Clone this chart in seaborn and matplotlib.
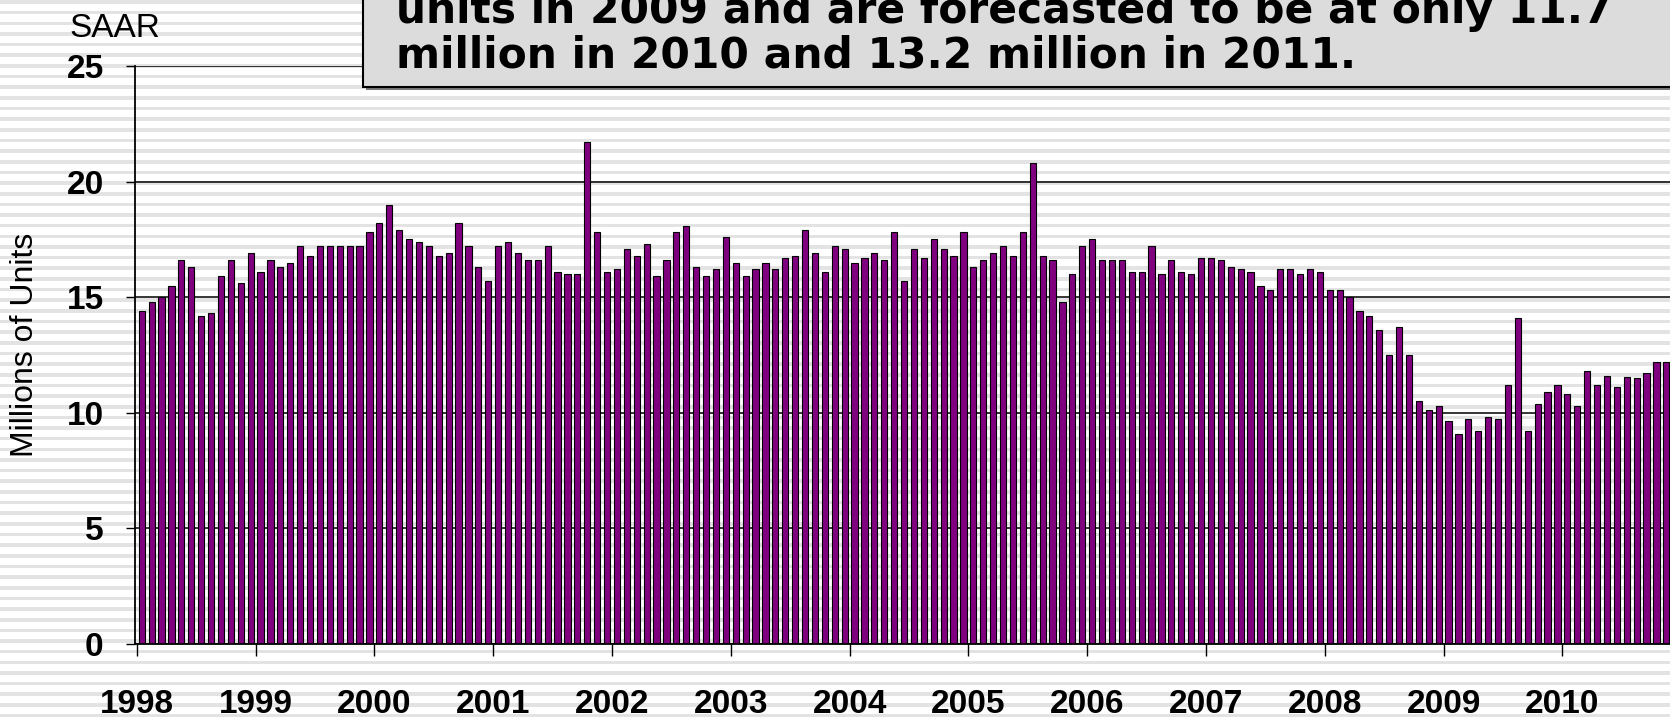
import numpy as np
import pandas as pd
import matplotlib.pyplot as plt
from matplotlib.patches import Rectangle
import seaborn as sns

# monthly light vehicle sales, SAAR, millions of units
sales_1998 = [14.4, 14.8, 15.0, 15.5, 16.6, 16.3, 14.2, 14.3, 15.9, 16.6, 15.6, 16.9]
sales_1999 = [16.1, 16.6, 16.3, 16.5, 17.2, 16.8, 17.2, 17.2, 17.2, 17.2, 17.2, 17.8]
sales_2000 = [18.2, 19.0, 17.9, 17.5, 17.4, 17.2, 16.8, 16.9, 18.2, 17.2, 16.3, 15.7]
sales_2001 = [17.2, 17.4, 16.9, 16.6, 16.6, 17.2, 16.1, 16.0, 16.0, 21.7, 17.8, 16.1]
sales_2002 = [16.2, 17.1, 16.8, 17.3, 15.9, 16.6, 17.8, 18.1, 16.3, 15.9, 16.2, 17.6]
sales_2003 = [16.5, 15.9, 16.2, 16.5, 16.2, 16.7, 16.8, 17.9, 16.9, 16.1, 17.2, 17.1]
sales_2004 = [16.5, 16.7, 16.9, 16.6, 17.8, 15.7, 17.1, 16.7, 17.5, 17.1, 16.8, 17.8]
sales_2005 = [16.3, 16.6, 16.9, 17.2, 16.8, 17.8, 20.8, 16.8, 16.6, 14.8, 16.0, 17.2]
sales_2006 = [17.5, 16.6, 16.6, 16.6, 16.1, 16.1, 17.2, 16.0, 16.6, 16.1, 16.0, 16.7]
sales_2007 = [16.7, 16.6, 16.3, 16.2, 16.1, 15.5, 15.3, 16.2, 16.2, 16.0, 16.2, 16.1]
sales_2008 = [15.3, 15.3, 15.0, 14.4, 14.2, 13.6, 12.5, 13.7, 12.5, 10.5, 10.1, 10.3]
sales_2009 = [9.65, 9.1, 9.75, 9.2, 9.8, 9.75, 11.2, 14.1, 9.2, 10.4, 10.9, 11.2]
sales_2010 = [10.8, 10.3, 11.8, 11.2, 11.6, 11.1, 11.55, 11.5, 11.7, 12.2, 12.2]

years = [1998, 1999, 2000, 2001, 2002, 2003, 2004, 2005, 2006, 2007, 2008, 2009, 2010]
yticks = [0, 5, 10, 15, 20, 25]

series = [sales_1998, sales_1999, sales_2000, sales_2001, sales_2002, sales_2003,
          sales_2004, sales_2005, sales_2006, sales_2007, sales_2008, sales_2009,
          sales_2010]

rows = []
for yr, vals in zip(years, series):
    for m, v in enumerate(vals):
        rows.append([f"{yr}-{m + 1:02d}", v])
df = pd.DataFrame(rows, columns=["month", "saar"])

sns.set_style("white")
plt.rcParams["font.family"] = ["Liberation Sans", "DejaVu Sans"]
plt.rcParams["text.color"] = "black"
plt.rcParams["xtick.color"] = "black"
plt.rcParams["ytick.color"] = "black"

W, H = 1670, 719
fig = plt.figure(figsize=(W / 100, H / 100), dpi=100)
fig.patch.set_facecolor("white")

# striped slide background
bg = fig.add_axes([0, 0, 1, 1], zorder=-1)
bg.set_xlim(0, 1)
bg.set_ylim(H, 0)
for y in np.arange(2.0, H, 10.65):
    bg.axhspan(y - 1.8, y + 1.8, color="#e3e3e3", lw=0)
bg.axis("off")

ax = fig.add_axes([135 / W, 75 / H, (W - 135) / W, 578 / H])
ax.set_facecolor("none")
sns.barplot(data=df, x="month", y="saar", color="#800080", saturation=1,
            edgecolor="black", linewidth=0.8, width=0.62, ax=ax)

ax.set_xlim(-0.68, -0.68 + (W - 135) / 9.9)
ax.set_ylim(0, 25)
ax.set_axisbelow(True)
ax.yaxis.grid(True, color="black", lw=1.1)
ax.xaxis.grid(False)

ax.set_yticks(yticks)
ax.set_yticklabels([str(t) for t in yticks], fontsize=24, fontweight="bold")
ax.set_xticks([-0.5 + 12 * i for i in range(len(years))])
ax.set_xticklabels([str(y) for y in years], fontsize=24, fontweight="bold")
ax.tick_params(axis="y", direction="out", length=6.5, width=1, pad=16, left=True)
ax.tick_params(axis="x", direction="out", length=8.6, width=1, pad=24, bottom=True)
ax.set_xlabel("")
ax.set_ylabel("")

for s in ["top", "right"]:
    ax.spines[s].set_visible(False)
for s in ["left", "bottom"]:
    ax.spines[s].set_color("black")
    ax.spines[s].set_linewidth(1.3)

fig.text(69 / W, 1 - 37 / H, "SAAR", fontsize=24, va="baseline", ha="left")
fig.text(25 / W, 1 - 345 / H, "Millions of Units", fontsize=23, rotation=90,
         va="center", ha="center")

# headline call-out box (its top is cut off by the slide edge)
shadow = Rectangle((366 / W, 1 - 90 / H), 1.0, 0.3, transform=fig.transFigure,
                   facecolor="#7a7a7a", edgecolor="none", zorder=4)
box = Rectangle((363 / W, 1 - 87 / H), 1.0, 0.3, transform=fig.transFigure,
                facecolor="#dcdcdc", edgecolor="black", lw=1.5, zorder=5)
fig.add_artist(shadow)
fig.add_artist(box)
fig.text(396 / W, 1 - 23 / H, "units in 2009 and are forecasted to be at only 11.7",
         family="DejaVu Sans", fontweight="bold", fontsize=30.5, va="baseline",
         ha="left", zorder=6)
fig.text(396 / W, 1 - 68 / H, "million in 2010 and 13.2 million in 2011.",
         family="DejaVu Sans", fontweight="bold", fontsize=30.5, va="baseline",
         ha="left", zorder=6)

fig.savefig("out.png", dpi=100)
